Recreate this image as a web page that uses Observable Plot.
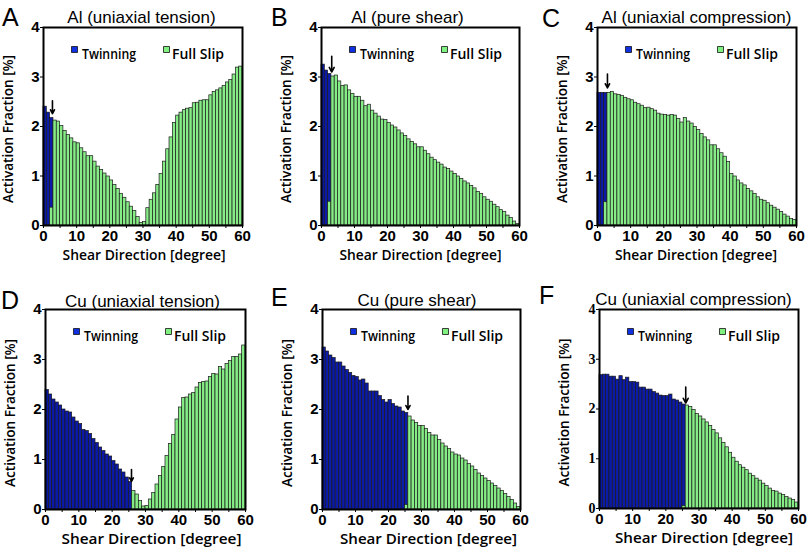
<!DOCTYPE html>
<html><head><meta charset="utf-8">
<script src="https://cdn.jsdelivr.net/npm/d3@7"></script>
<script src="https://cdn.jsdelivr.net/npm/@observablehq/plot@0.6"></script>
<style>
body{margin:0;background:#fff;}
#fig{position:relative;width:807px;height:552px;overflow:hidden;font-family:"Liberation Sans",Arial,sans-serif;background:#fff;}
.panel{position:absolute;overflow:visible;}
.letter{position:absolute;font-size:25px;line-height:25px;color:#000;}
.title{position:absolute;width:300px;text-align:center;font-size:17px;line-height:17px;color:#000;white-space:nowrap;}
</style></head><body><div id="fig"></div><script>
// ---------------- data ----------------
const xTicks = [0, 5, 10, 15, 20, 25, 30, 35, 40, 45, 50, 55, 60];
const yTicks = [0, 1, 2, 3, 4];
const xLabel = "Shear Direction [degree]";
const yLabel = "Activation Fraction [%]";
const seriesNames = ["Twinning", "Full Slip"];
const panelLetters = ["A", "B", "C", "D", "E", "F"];
const panelTitles = ["Al (uniaxial tension)", "Al (pure shear)", "Al (uniaxial compression)",
                     "Cu (uniaxial tension)", "Cu (pure shear)", "Cu (uniaxial compression)"];

// twinning fraction per 1-degree bin, starting at bin 0
const alTensionTwin = [2.40, 2.28, 2.17];
const alShearTwin = [3.25, 3.13, 3.06];
const alCompTwin = [2.68, 2.68, 2.68];
const cuTensionTwin = [2.39, 2.30, 2.20, 2.14, 2.08, 2.00, 1.96, 1.94, 1.84, 1.76, 1.71, 1.59, 1.57, 1.51, 1.41, 1.33, 1.24, 1.17, 1.10, 1.06, 0.97, 0.90, 0.80, 0.74, 0.64, 0.55];
const cuShearTwin = [3.24, 3.16, 3.08, 3.03, 2.94, 2.94, 2.86, 2.79, 2.73, 2.67, 2.65, 2.58, 2.60, 2.52, 2.36, 2.36, 2.36, 2.27, 2.19, 2.14, 2.19, 2.11, 2.06, 2.04, 1.96, 1.93];
const cuCompTwin = [2.68, 2.69, 2.69, 2.65, 2.65, 2.59, 2.66, 2.58, 2.63, 2.54, 2.54, 2.53, 2.43, 2.43, 2.39, 2.39, 2.34, 2.31, 2.27, 2.26, 2.26, 2.29, 2.19, 2.17, 2.13, 2.09];

// full slip fraction per 1-degree bin 0..59
const alTensionSlip = [0, 0, 0.36, 2.12, 2.10, 2.01, 1.91, 1.83, 1.76, 1.68, 1.66, 1.56, 1.48, 1.40, 1.40, 1.29, 1.19, 1.12, 1.05, 0.99,
  0.91, 0.82, 0.74, 0.64, 0.56, 0.47, 0.38, 0.29, 0.17, 0.05, 0.07, 0.35, 0.52, 0.65, 0.82, 1.04, 1.29, 1.54, 1.78, 2.07,
  2.22, 2.28, 2.33, 2.36, 2.37, 2.47, 2.48, 2.52, 2.53, 2.53, 2.63, 2.70, 2.73, 2.77, 2.82, 2.89, 2.94, 3.05, 3.19, 3.21];
const alShearSlip = [0, 0, 0.48, 3.01, 3.03, 2.91, 2.82, 2.83, 2.73, 2.66, 2.60, 2.60, 2.52, 2.41, 2.44, 2.32, 2.26, 2.20, 2.14, 2.13,
  2.07, 2.02, 1.98, 1.92, 1.86, 1.81, 1.74, 1.69, 1.64, 1.58, 1.58, 1.51, 1.44, 1.37, 1.32, 1.27, 1.23, 1.17, 1.14, 1.09,
  1.04, 0.99, 0.94, 0.89, 0.85, 0.80, 0.75, 0.68, 0.64, 0.57, 0.52, 0.48, 0.42, 0.37, 0.31, 0.27, 0.20, 0.15, 0.08, 0.03];
const alCompSlip = [0, 0, 0.47, 2.68, 2.70, 2.65, 2.64, 2.62, 2.58, 2.55, 2.53, 2.48, 2.45, 2.42, 2.37, 2.38, 2.35, 2.32, 2.26, 2.24,
  2.23, 2.22, 2.23, 2.22, 2.15, 2.08, 2.17, 2.10, 2.06, 1.99, 1.93, 1.85, 1.78, 1.72, 1.62, 1.62, 1.54, 1.46, 1.39, 1.28,
  1.04, 0.99, 0.91, 0.85, 0.81, 0.74, 0.69, 0.64, 0.57, 0.52, 0.50, 0.45, 0.40, 0.36, 0.32, 0.27, 0.22, 0.18, 0.13, 0.11];
const cuTensionSlip = [0, 0, 0, 0, 0, 0, 0, 0, 0, 0, 0, 0, 0, 0, 0, 0, 0, 0, 0, 0,
  0, 0, 0, 0, 0, 0, 0.37, 0.30, 0.17, 0.06, 0.07, 0.20, 0.33, 0.50, 0.67, 0.85, 1.07, 1.31, 1.49, 1.80,
  2.04, 2.23, 2.24, 2.30, 2.33, 2.44, 2.53, 2.55, 2.56, 2.65, 2.71, 2.70, 2.85, 2.80, 2.91, 2.97, 3.05, 3.05, 3.10, 3.28];
const cuShearSlip = [0, 0, 0, 0, 0, 0, 0, 0, 0, 0, 0, 0, 0, 0, 0, 0, 0, 0, 0, 0,
  0, 0, 0, 0, 0, 0.09, 1.86, 1.78, 1.73, 1.67, 1.67, 1.61, 1.53, 1.48, 1.48, 1.39, 1.32, 1.26, 1.21, 1.14,
  1.10, 1.08, 1.02, 0.98, 0.91, 0.86, 0.79, 0.72, 0.67, 0.62, 0.57, 0.52, 0.47, 0.42, 0.37, 0.31, 0.25, 0.19, 0.12, 0.05];
const cuCompSlip = [0, 0, 0, 0, 0, 0, 0, 0, 0, 0, 0, 0, 0, 0, 0, 0, 0, 0, 0, 0,
  0, 0, 0, 0, 0, 0.05, 2.07, 2.04, 1.98, 1.90, 1.85, 1.79, 1.73, 1.66, 1.58, 1.51, 1.41, 1.32, 1.23, 1.12,
  1.02, 0.94, 0.87, 0.82, 0.77, 0.70, 0.65, 0.60, 0.56, 0.50, 0.45, 0.40, 0.35, 0.34, 0.30, 0.27, 0.23, 0.20, 0.17, 0.12];

// transition arrows: x position (degree), tail and tip (activation fraction)
const arrowX = [2.7, 3.1, 3.0, 25.8, 25.9, 26.0];
const arrowTail = [2.52, 3.42, 3.06, 0.80, 2.27, 2.44];
const arrowTip = [2.26, 3.10, 2.78, 0.56, 2.00, 2.12];

const twinSeries = [alTensionTwin, alShearTwin, alCompTwin, cuTensionTwin, cuShearTwin, cuCompTwin];
const slipSeries = [alTensionSlip, alShearSlip, alCompSlip, cuTensionSlip, cuShearSlip, cuCompSlip];

// ---------------- layout ----------------
const layout = [
  {left: 0,   top: 0,   w: 268, ml: 43, mr: 26, mt: 27, mb: 51, letterX: 2,   letterY: 5,   titleC: 141.5, titleY: 8.5,   xlOff: 1, xlLen: 163, ylDy: 76.5},
  {left: 268, top: 0,   w: 269, ml: 53, mr: 18, mt: 27, mb: 51, letterX: 271, letterY: 5,   titleC: 407.5, titleY: 8.5,   xlOff: 0, xlLen: 162, ylDy: 76.5},
  {left: 537, top: 0,   w: 270, ml: 60, mr: 11, mt: 27, mb: 51, letterX: 542, letterY: 6,   titleC: 696.5, titleY: 8.5,   xlOff: -1, xlLen: 162, ylDy: 76.5},
  {left: 0,   top: 276, w: 268, ml: 45, mr: 23, mt: 33, mb: 43, letterX: 1,   letterY: 288, titleC: 142.5, titleY: 292.5, xlOff: 6, xlLen: 180, ylDy: 77.5},
  {left: 268, top: 276, w: 269, ml: 54, mr: 17, mt: 33, mb: 43, letterX: 271, letterY: 285, titleC: 417,   titleY: 291.5, xlOff: 7, xlLen: 177, ylDy: 77.5},
  {left: 537, top: 276, w: 270, ml: 62, mr: 9,  mt: 33, mb: 44, letterX: 539, letterY: 283, titleC: 693.5, titleY: 290.5, xlOff: 5, xlLen: 178, ylDy: 77.5}
];
const yLabelLen = 148;

const BLUE = "#0b1ba8";
const GREEN = "#86ec86";
const EDGE = "#1a1a1a";
const SANS = "'Liberation Sans', Arial, sans-serif";
const LABEL_FONT = "'Open Sans', sans-serif";

const fig = document.getElementById("fig");

function fitText(svg, content, length) {
  d3.select(svg).selectAll("text")
    .filter(function () { return this.textContent === content; })
    .attr("textLength", length)
    .attr("lengthAdjust", "spacingAndGlyphs");
}

for (let k = 0; k < 6; k++) {
  const L = layout[k];
  const twin = twinSeries[k].map((v, i) => ({bin: i, v}));
  const slip = slipSeries[k].map((v, i) => ({bin: i, v})).filter(d => d.v > 0);
  const arrow = [{x: arrowX[k], y1: arrowTail[k], y2: arrowTip[k]}];
  const serifY = k === 5;
  const top = k < 3;

  const chart = Plot.plot({
    width: L.w, height: 276,
    marginLeft: L.ml, marginRight: L.mr, marginTop: L.mt, marginBottom: L.mb,
    style: {fontFamily: SANS, fontSize: "14px", fontWeight: "bold", background: "transparent", color: "#000", overflow: "visible"},
    x: {domain: [0, 60]},
    y: {domain: [0, 4]},
    marks: [
      Plot.rect(twin, {x1: "bin", x2: d => d.bin + 1, y1: 0, y2: "v", fill: BLUE, stroke: EDGE, strokeWidth: 0.7}),
      Plot.rect(slip, {x1: "bin", x2: d => d.bin + 1, y1: 0, y2: "v", fill: GREEN, stroke: EDGE, strokeWidth: 0.7}),
      Plot.frame({stroke: "#000", strokeWidth: 2}),
      Plot.axisX({ticks: xTicks, tickFormat: d => d % 10 === 0 ? String(d) : "", tickSize: 3, tickPadding: 2, label: null,
        fontSize: 15, fontWeight: "bold", fontFamily: SANS}),
      Plot.axisY({ticks: yTicks, tickFormat: d => String(d), tickSize: 3, tickPadding: 1, label: null,
        fontSize: serifY ? 14 : 15, fontWeight: "bold", fontFamily: serifY ? "'Liberation Serif', serif" : SANS}),
      Plot.text([xLabel], {frameAnchor: "bottom", textAnchor: "start", dx: L.xlOff - L.xlLen / 2, dy: 34.5,
        fontFamily: LABEL_FONT, fontWeight: 600, fontSize: top ? 14 : 15}),
      Plot.text([yLabel], {frameAnchor: "left", rotate: -90, textAnchor: "start", dx: -35, dy: L.ylDy,
        fontFamily: LABEL_FONT, fontWeight: 600, fontSize: 13.5}),
      Plot.dot([seriesNames[0]], {frameAnchor: "top-left", dx: 31, dy: 22, symbol: "square", r: 3.4, fill: "#1030e0", stroke: "#111", strokeWidth: 0.8}),
      Plot.text([seriesNames[0]], {frameAnchor: "top-left", dx: 38.5, dy: 22, textAnchor: "start", fontFamily: LABEL_FONT, fontWeight: 600, fontSize: 14}),
      Plot.dot([seriesNames[1]], {frameAnchor: "top-left", dx: 123, dy: 22, symbol: "square", r: 3.4, fill: "#80f080", stroke: "#111", strokeWidth: 0.8}),
      Plot.text([seriesNames[1]], {frameAnchor: "top-left", dx: 128.5, dy: 22, textAnchor: "start", fontFamily: LABEL_FONT, fontWeight: 600, fontSize: 14}),
      Plot.arrow(arrow, {x1: "x", x2: "x", y1: "y1", y2: "y2", stroke: "#000", strokeWidth: 1.6, headLength: 6, headAngle: 55})
    ]
  });
  fitText(chart, yLabel, yLabelLen);
  fitText(chart, xLabel, L.xlLen);
  fitText(chart, seriesNames[0], 54);
  fitText(chart, seriesNames[1], 52);
  chart.classList.add("panel");
  chart.style.left = L.left + "px";
  chart.style.top = L.top + "px";
  fig.appendChild(chart);

  const letter = document.createElement("div");
  letter.className = "letter";
  letter.textContent = panelLetters[k];
  letter.style.left = L.letterX + "px";
  letter.style.top = L.letterY + "px";
  fig.appendChild(letter);

  const title = document.createElement("div");
  title.className = "title";
  title.textContent = panelTitles[k];
  title.style.left = (L.titleC - 150) + "px";
  title.style.top = L.titleY + "px";
  fig.appendChild(title);
}
</script></body></html>
